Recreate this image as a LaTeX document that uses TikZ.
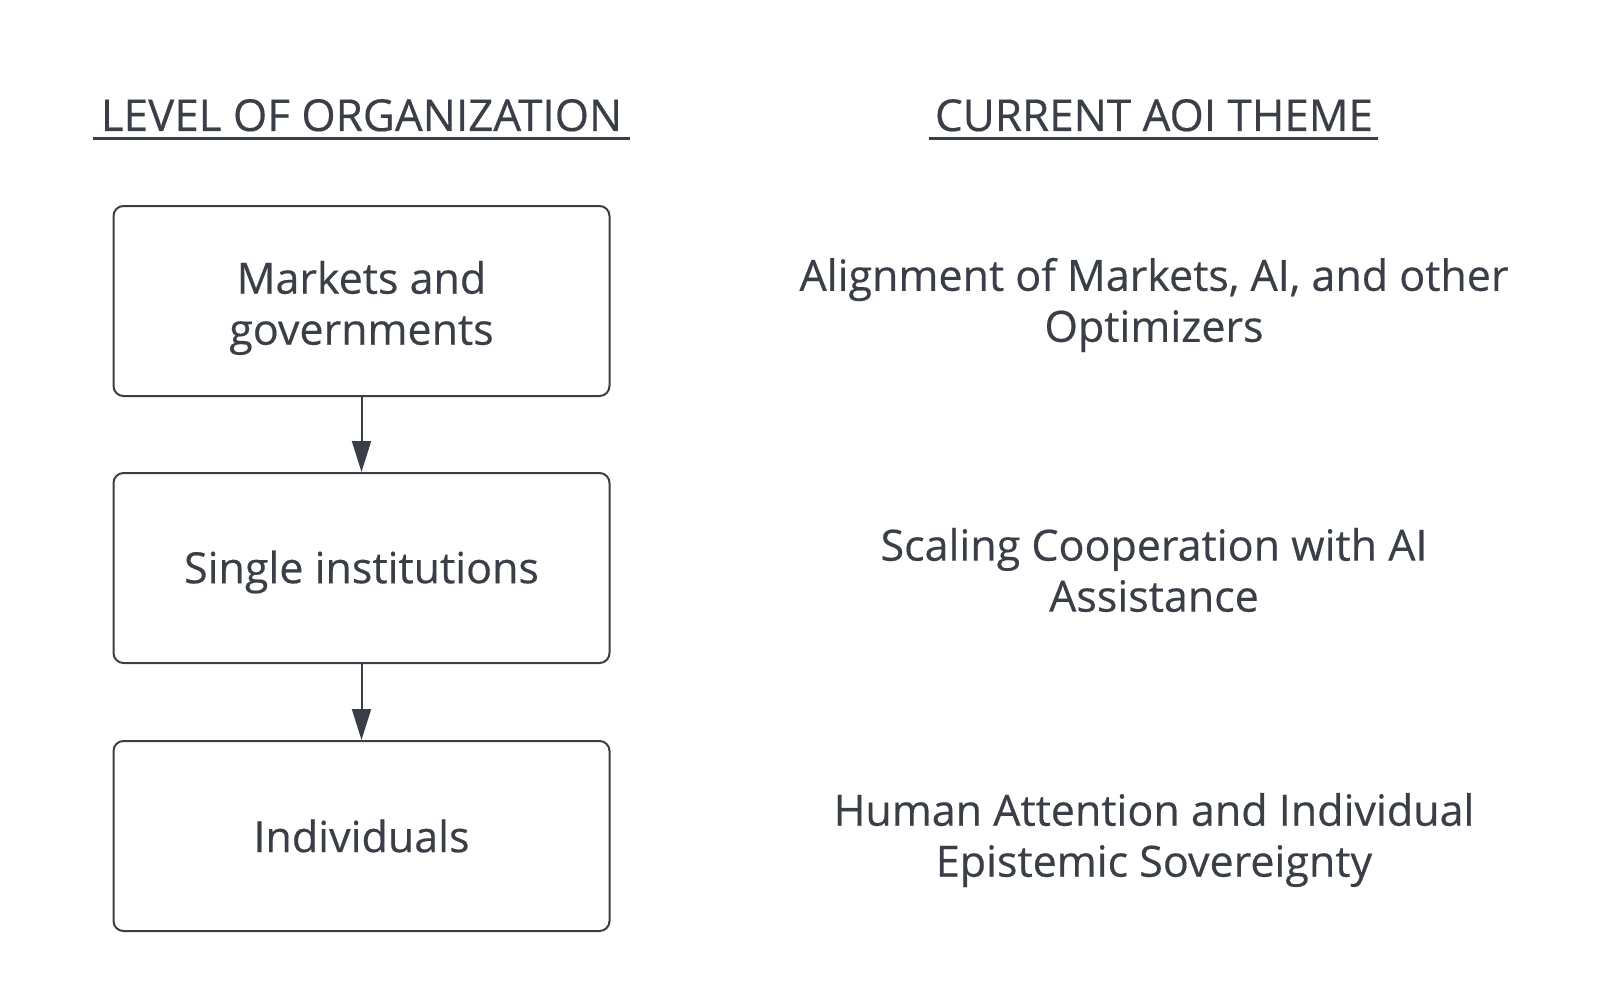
\documentclass[tikz,border=0pt]{standalone}
\usepackage{fontspec}
\setmainfont[FakeBold=0.4]{Open Sans}
\usetikzlibrary{arrows.meta}
\definecolor{ink}{HTML}{3A3F47}
\tikzset{
  box/.style={draw=ink, line width=1pt, rounded corners=5pt, minimum width=248pt, minimum height=95pt, inner sep=0pt},
  lbl/.style={text=ink, font=\fontsize{21.5pt}{25.5pt}\selectfont, align=center, inner sep=0pt},
  head/.style={text=ink, font=\fontsize{22pt}{25.5pt}\selectfont, inner sep=0pt, anchor=base},
  conn/.style={draw=ink, line width=1pt, -{Triangle[length=15.5pt, width=9.5pt]}},
  uline/.style={draw=ink, line width=1.5pt}
}
\begin{document}
\begin{tikzpicture}[x=0.5pt, y=-0.5pt]
\useasboundingbox (0,0) rectangle (1618,990);
\node[head] (h1) at (361.5,131) {LEVEL OF ORGANIZATION};
\node[head] (h2) at (1154,131) {CURRENT AOI THEME};
\coordinate (u1a) at (93,139); \coordinate (u1b) at (630,139);
\coordinate (u2a) at (929,139); \coordinate (u2b) at (1378,139);
\draw[uline] (u1a) -- (u1b);
\draw[uline] (u2a) -- (u2b);
\node[box] (b1) at (361.5,301) {};
\node[box] (b2) at (361.5,568) {};
\node[box] (b3) at (361.5,836) {};
\node[lbl] (t1) at (361.5,308) {Markets and\\governments};
\node[lbl] (t2) at (361.5,572) {Single institutions};
\node[lbl] (t3) at (361.5,836) {Individuals};
\draw[conn] (b1) -- (b2);
\draw[conn] (b2) -- (b3);
\node[lbl] (r1) at (1154,305) {Alignment of Markets, AI, and other\\Optimizers};
\node[lbl] (r2) at (1154,570) {Scaling Cooperation with AI\\Assistance};
\node[lbl] (r3) at (1154,840) {Human Attention and Individual\\Epistemic Sovereignty};
\end{tikzpicture}
\end{document}
